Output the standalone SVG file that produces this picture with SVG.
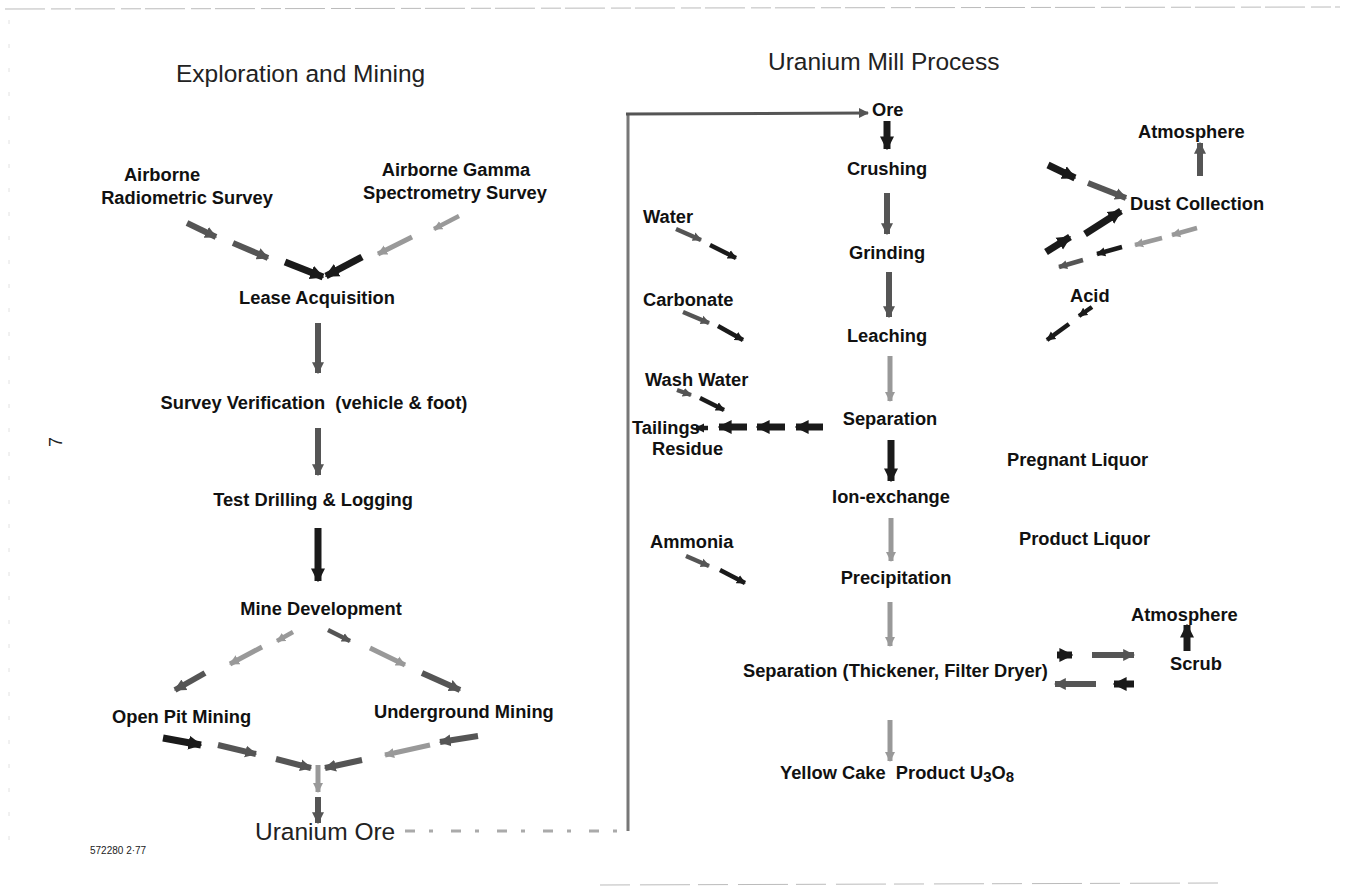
<svg xmlns="http://www.w3.org/2000/svg" width="1345" height="896" viewBox="0 0 1345 896">
<style>
  .t{font-family:"Liberation Sans",Arial,sans-serif;font-weight:bold;font-size:18.3px;fill:#111;white-space:pre}
  .h{font-family:"Liberation Sans",Arial,sans-serif;font-weight:normal;font-size:24.5px;fill:#222}
  .m{text-anchor:middle}
  .d{stroke:#1a1a1a;stroke-width:7;fill:none;marker-end:url(#md)}
  .g{stroke:#555;stroke-width:6;fill:none;marker-end:url(#mg)}
  .l{stroke:#999;stroke-width:5;fill:none;marker-end:url(#ml)}
  .s{stroke-width:4.5}
</style>
<defs>
  <marker id="md" viewBox="0 0 10 10" refX="9" refY="5" markerWidth="2" markerHeight="2.4" orient="auto"><path d="M0,0 L10,5 L0,10 Z" fill="#1a1a1a"/></marker>
  <marker id="mg" viewBox="0 0 10 10" refX="9" refY="5" markerWidth="2" markerHeight="2.4" orient="auto"><path d="M0,0 L10,5 L0,10 Z" fill="#555"/></marker>
  <marker id="ml" viewBox="0 0 10 10" refX="9" refY="5" markerWidth="2" markerHeight="2.4" orient="auto"><path d="M0,0 L10,5 L0,10 Z" fill="#999"/></marker>
  <marker id="mo" viewBox="0 0 10 10" refX="9" refY="5" markerWidth="3.5" markerHeight="4" orient="auto"><path d="M0,0 L10,5 L0,10 Z" fill="#555"/></marker>
</defs>
<rect width="1345" height="896" fill="#fff"/>
<g id="page-lines" stroke="#bbb" stroke-width="1" fill="none">
  <path d="M5,9 L1340,7" stroke-dasharray="40 6 20 4"/>
  <path d="M600,885 L1220,883" stroke-dasharray="30 10 50 8"/>
  <path d="M9,20 L9,860" stroke="#e2e2e2" stroke-dasharray="4 20"/>
</g>
<text class="h" x="176" y="82">Exploration and Mining</text>
<text class="h" x="768" y="70">Uranium Mill Process</text>
<text x="62" y="442" transform="rotate(-90 62 442)" font-family="Liberation Sans,Arial,sans-serif" font-size="18" fill="#222" text-anchor="middle">7</text>
<text x="90" y="854" font-family="Liberation Sans,Arial,sans-serif" font-size="10" fill="#222">572280 2·77</text>

<g id="connectors">
  <path d="M405,831 L630,831" stroke="#aaa" stroke-width="3" stroke-dasharray="10 14 4 18" fill="none"/>
  <path d="M628,831 L628,114" stroke="#777" stroke-width="3" fill="none"/>
  <path d="M626,114 L868,113" stroke="#555" stroke-width="3" fill="none" marker-end="url(#mo)"/>
  <line class="g" x1="187" y1="223" x2="216" y2="237"/>
  <line class="g" x1="233" y1="243" x2="268" y2="258"/>
  <line class="d" x1="285" y1="262" x2="323" y2="277"/>
  <line class="l s" x1="459" y1="216" x2="434" y2="229"/>
  <line class="l" x1="412" y1="237" x2="378" y2="254"/>
  <line class="d" x1="362" y1="257" x2="326" y2="276"/>
  <line class="g" x1="318" y1="323" x2="318" y2="373"/>
  <line class="g" x1="318" y1="428" x2="318" y2="475"/>
  <line class="d" x1="318" y1="528" x2="318" y2="581"/>
  <line class="l s" x1="293" y1="632" x2="277" y2="641"/>
  <line class="l" x1="262" y1="647" x2="230" y2="664"/>
  <line class="g" x1="205" y1="673" x2="175" y2="690"/>
  <line class="g s" x1="328" y1="630" x2="350" y2="641"/>
  <line class="l" x1="370" y1="648" x2="405" y2="665"/>
  <line class="g" x1="422" y1="673" x2="460" y2="690"/>
  <line class="d" x1="163" y1="738" x2="201" y2="745"/>
  <line class="g" x1="218" y1="745" x2="256" y2="754"/>
  <line class="g" x1="276" y1="759" x2="311" y2="768"/>
  <line class="g" x1="478" y1="736" x2="440" y2="742"/>
  <line class="l" x1="430" y1="745" x2="385" y2="755"/>
  <line class="g" x1="362" y1="760" x2="325" y2="768"/>
  <line class="l" x1="318" y1="765" x2="318" y2="792"/>
  <line class="g" x1="318" y1="797" x2="318" y2="823"/>
  <line class="d" x1="887" y1="121" x2="887" y2="149"/>
  <line class="g" x1="887" y1="193" x2="887" y2="234"/>
  <line class="g" x1="889" y1="272" x2="889" y2="317"/>
  <line class="l" x1="890" y1="356" x2="890" y2="401"/>
  <line class="d" x1="891" y1="440" x2="891" y2="481"/>
  <line class="l" x1="891" y1="518" x2="891" y2="561"/>
  <line class="l" x1="890" y1="602" x2="890" y2="646"/>
  <line class="l" x1="890" y1="720" x2="890" y2="761"/>
  <line class="g s" x1="676" y1="229" x2="701" y2="240"/>
  <line class="d s" x1="710" y1="245" x2="736" y2="258"/>
  <line class="g s" x1="683" y1="312" x2="709" y2="323"/>
  <line class="d s" x1="718" y1="326" x2="743" y2="340"/>
  <line class="g s" x1="677" y1="390" x2="691" y2="395"/>
  <line class="d s" x1="700" y1="398" x2="724" y2="410"/>
  <line class="g s" x1="686" y1="556" x2="709" y2="566"/>
  <line class="d s" x1="720" y1="570" x2="745" y2="583"/>
  <line class="d" x1="823" y1="427" x2="796" y2="427"/>
  <line class="d" x1="785" y1="427" x2="757" y2="427"/>
  <line class="d" x1="747" y1="427" x2="719" y2="427"/>
  <line class="d s" x1="708" y1="428" x2="696" y2="428"/>
  <line class="d" x1="1048" y1="165" x2="1075" y2="178"/>
  <line class="g" x1="1088" y1="183" x2="1126" y2="198"/>
  <line class="d" x1="1085" y1="234" x2="1121" y2="211"/>
  <line class="d" x1="1046" y1="252" x2="1070" y2="237"/>
  <line class="l s" x1="1197" y1="228" x2="1172" y2="235"/>
  <line class="l s" x1="1162" y1="238" x2="1135" y2="245"/>
  <line class="d s" x1="1122" y1="247" x2="1097" y2="254"/>
  <line class="g s" x1="1083" y1="260" x2="1059" y2="267"/>
  <line class="d s" x1="1092" y1="307" x2="1079" y2="316"/>
  <line class="d s" x1="1069" y1="324" x2="1047" y2="340"/>
  <line class="g" x1="1200" y1="176" x2="1200" y2="143"/>
  <line class="d" x1="1057" y1="655" x2="1072" y2="655"/>
  <line class="g" x1="1092" y1="655" x2="1134" y2="655"/>
  <line class="d" x1="1134" y1="684" x2="1114" y2="684"/>
  <line class="g" x1="1096" y1="684" x2="1055" y2="684"/>
  <line class="d" x1="1187" y1="651" x2="1187" y2="625"/>
</g>

<g id="n-airborne-radiometric"><text class="t m" x="162" y="181">Airborne</text><text class="t m" x="187" y="204">Radiometric Survey</text></g>
<g id="n-airborne-gamma"><text class="t m" x="456" y="176">Airborne Gamma</text><text class="t m" x="455" y="199">Spectrometry Survey</text></g>
<g id="n-lease"><text class="t m" x="317" y="304">Lease Acquisition</text></g>
<g id="n-survey"><text class="t m" x="314" y="409" xml:space="preserve">Survey Verification  (vehicle &amp; foot)</text></g>
<g id="n-test"><text class="t m" x="313" y="506">Test Drilling &amp; Logging</text></g>
<g id="n-mine-dev"><text class="t m" x="321" y="615">Mine Development</text></g>
<g id="n-open-pit"><text class="t" x="112" y="723">Open Pit Mining</text></g>
<g id="n-underground"><text class="t" x="374" y="718">Underground Mining</text></g>
<g id="n-uranium-ore"><text class="h" x="255" y="840">Uranium Ore</text></g>

<g id="n-ore"><text class="t" x="872" y="116">Ore</text></g>
<g id="n-crushing"><text class="t m" x="887" y="175">Crushing</text></g>
<g id="n-grinding"><text class="t m" x="887" y="259">Grinding</text></g>
<g id="n-leaching"><text class="t m" x="887" y="342">Leaching</text></g>
<g id="n-separation"><text class="t m" x="890" y="425">Separation</text></g>
<g id="n-ion"><text class="t m" x="891" y="503">Ion-exchange</text></g>
<g id="n-precip"><text class="t m" x="896" y="584">Precipitation</text></g>
<g id="n-separation2"><text class="t" x="743" y="677">Separation (Thickener, Filter Dryer)</text></g>
<g id="n-yellow"><text class="t" x="780" y="779" xml:space="preserve">Yellow Cake  Product U<tspan font-size="15" dy="3">3</tspan><tspan dy="-3">O</tspan><tspan font-size="15" dy="3">8</tspan></text></g>
<g id="n-water"><text class="t" x="643" y="223">Water</text></g>
<g id="n-carbonate"><text class="t" x="643" y="306">Carbonate</text></g>
<g id="n-wash"><text class="t" x="645" y="386">Wash Water</text></g>
<g id="n-tailings"><text class="t" x="632" y="434">Tailings</text><text class="t" x="652" y="455">Residue</text></g>
<g id="n-ammonia"><text class="t" x="650" y="548">Ammonia</text></g>
<g id="n-atmosphere1"><text class="t" x="1138" y="138">Atmosphere</text></g>
<g id="n-dust"><text class="t" x="1130" y="210">Dust Collection</text></g>
<g id="n-acid"><text class="t" x="1070" y="302">Acid</text></g>
<g id="n-pregnant"><text class="t" x="1007" y="466">Pregnant Liquor</text></g>
<g id="n-product"><text class="t" x="1019" y="545">Product Liquor</text></g>
<g id="n-atmosphere2"><text class="t" x="1131" y="621">Atmosphere</text></g>
<g id="n-scrub"><text class="t" x="1170" y="670">Scrub</text></g>
</svg>
